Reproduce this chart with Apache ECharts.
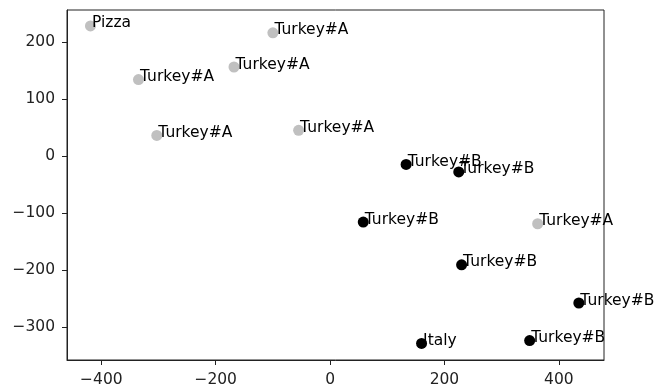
<!DOCTYPE html>
<html>
<head>
<meta charset="utf-8">
<script src="https://cdn.jsdelivr.net/npm/echarts@6/dist/echarts.min.js"></script>
<style>
html,body{margin:0;padding:0;background:#fff;}
#chart{width:654px;height:390px;}
</style>
</head>
<body>
<div id="chart"></div>
<script>
const greyLabels = ['Pizza','Turkey#A','Turkey#A','Turkey#A','Turkey#A','Turkey#A','Turkey#A'];
const greyX = [-419, -100, -168, -335, -303, -55, 363];
const greyY = [228, 216, 156, 134, 36, 45, -119];

const blackLabels = ['Turkey#B','Turkey#B','Turkey#B','Turkey#B','Turkey#B','Italy','Turkey#B'];
const blackX = [133, 225, 58, 230, 435, 160, 349];
const blackY = [-15, -28, -116, -191, -258, -329, -324];

const xTicks = [-400, -200, 0, 200, 400];
const yTicks = [-300, -200, -100, 0, 100, 200];

const FONT = 'DejaVu Sans';
const fmt = v => String(v).replace('-', '\u2212');

function makeSeries(xs, ys, labels, color) {
  return {
    type: 'scatter',
    symbolSize: 11,
    clip: false,
    itemStyle: { color: color, opacity: 1 },
    data: xs.map((x, i) => [x, ys[i], labels[i]]),
    label: {
      show: true,
      position: [7, 11],
      align: 'left',
      verticalAlign: 'bottom',
      formatter: p => p.value[2],
      fontFamily: FONT,
      fontSize: 15.5,
      color: '#000'
    },
    emphasis: { disabled: true }
  };
}

const chart = echarts.init(document.getElementById('chart'), null, { renderer: 'canvas' });
chart.setOption({
  animation: false,
  backgroundColor: '#fff',
  grid: {
    left: 67, right: 50, top: 10, bottom: 30,
    show: true, borderColor: '#222', borderWidth: 1, backgroundColor: 'transparent'
  },
  xAxis: {
    type: 'value', min: -460, max: 479,
    axisLine: { show: true, onZero: false, lineStyle: { color: '#222' } },
    splitLine: { show: false },
    axisTick: { show: true, length: 5, customValues: xTicks, lineStyle: { color: '#222' } },
    axisLabel: { customValues: xTicks, formatter: fmt, fontFamily: FONT, fontSize: 15.5, color: '#222', margin: 12 }
  },
  yAxis: {
    type: 'value', min: -358, max: 256,
    axisLine: { show: true, onZero: false, lineStyle: { color: '#222' } },
    splitLine: { show: false },
    axisTick: { show: true, length: 5, customValues: yTicks, lineStyle: { color: '#222' } },
    axisLabel: { customValues: yTicks, formatter: fmt, fontFamily: FONT, fontSize: 15.5, color: '#222', margin: 12 }
  },
  series: [
    makeSeries(greyX, greyY, greyLabels, '#c0c0c0'),
    makeSeries(blackX, blackY, blackLabels, '#000')
  ]
});
</script>
</body>
</html>
